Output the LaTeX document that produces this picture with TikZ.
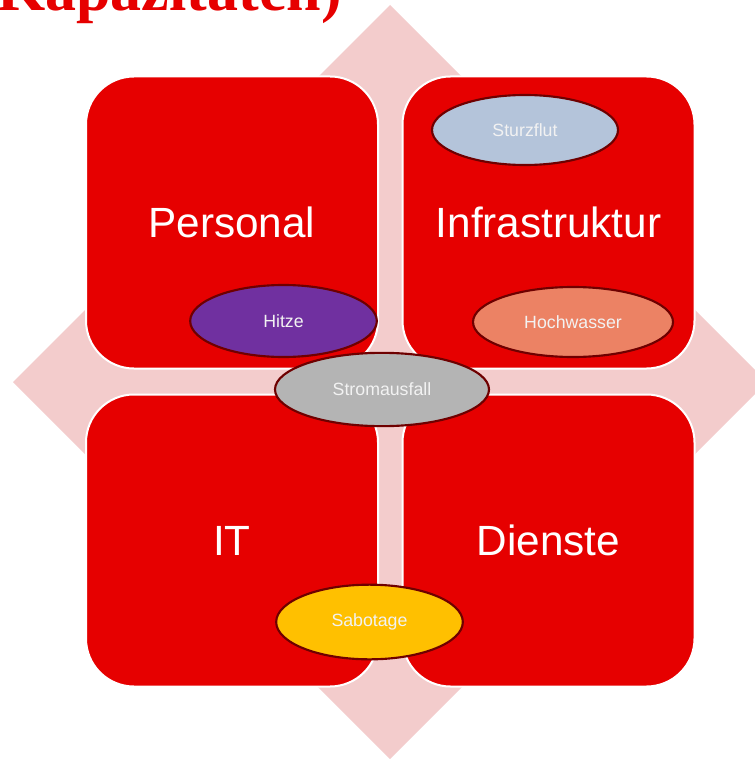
\documentclass[tikz,border=0pt]{standalone}
\usepackage{fontspec}
\setmainfont{Liberation Sans}
\newfontfamily\titlefont{Liberation Serif}
\usetikzlibrary{shapes.geometric}

\definecolor{boxred}{RGB}{230,0,0}
\definecolor{diamondpink}{RGB}{243,204,204}
\definecolor{rimred}{RGB}{110,0,0}
\definecolor{floodblue}{RGB}{180,196,218}
\definecolor{heatpurple}{RGB}{112,48,160}
\definecolor{watersalmon}{RGB}{236,130,100}
\definecolor{powergray}{RGB}{180,180,180}
\definecolor{sabogold}{RGB}{255,192,0}

\tikzset{
	field/.style={rectangle, fill=boxred, draw=white, line width=1.5pt, rounded corners=36pt,
		minimum width=219pt, minimum height=219pt, text=white, font=\fontsize{31.7}{36}\selectfont},
	risk/.style={ellipse, draw=rimred, line width=1.6pt, inner sep=0pt,
		text=white!95!black, font=\fontsize{13.3}{15}\selectfont},
}

\begin{document}
\begin{tikzpicture}[x=0.75pt, y=-0.75pt]
		\useasboundingbox (0,0) rectangle (754,759);
		\node[anchor=base west, text=boxred, font=\titlefont\bfseries\fontsize{46.5}{50}\selectfont, inner sep=0pt] (title) at (-3,11) {Kapazitäten)};
		
		\fill[diamondpink] (390,5) -- (767,382) -- (390,759) -- (13,382) -- cycle;
		
		\node[field] (personal) at (232,222.5) {Personal};
		\node[field] (infra) at (548.5,222.5) {Infrastruktur};
		\node[field] (it) at (232,540.5) {IT};
		\node[field] (dienste) at (548.5,540.5) {Dienste};
		
		\node[risk, fill=floodblue, minimum width=139.5pt, minimum height=52.5pt] (sturzflut) at (525,130) {Sturzflut};
		\node[risk, fill=heatpurple, minimum width=140pt, minimum height=54pt] (hitze) at (283.5,321) {Hitze};
		\node[risk, fill=watersalmon, minimum width=150pt, minimum height=52.5pt] (hochwasser) at (573,322) {Hochwasser};
		\node[risk, fill=powergray, minimum width=160.5pt, minimum height=55pt] (strom) at (382,389.5) {Stromausfall};
		\node[risk, fill=sabogold, minimum width=140pt, minimum height=56pt] (sabotage) at (369.5,622) {Sabotage};
	
	\end{tikzpicture}
\end{document}
